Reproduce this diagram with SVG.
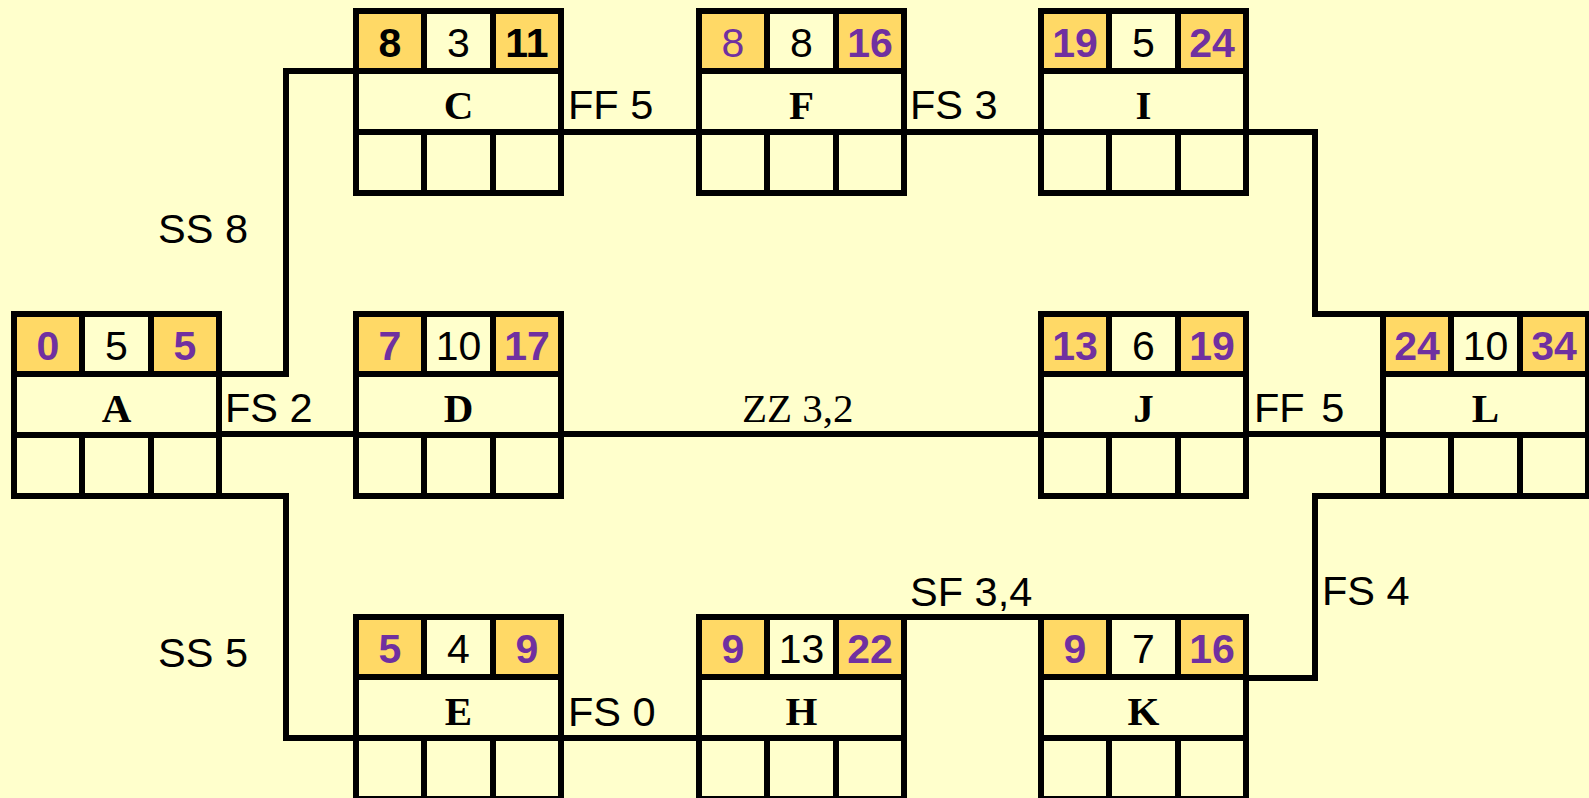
<svg xmlns="http://www.w3.org/2000/svg" xmlns:xlink="http://www.w3.org/1999/xlink" width="1589" height="798" viewBox="0 0 1589 798">
<style>
.bg{fill:#FFFFCC}
.cell{fill:#FFD966}
.box{fill:none;stroke:#000;stroke-width:6}
.ln{stroke:#000;stroke-width:6;fill:none}
.conn{stroke:#000;stroke-width:6;fill:none}
.num{font-family:"Liberation Sans",Arial,sans-serif;font-size:41px;text-anchor:middle}
.p{fill:#7030A0;font-weight:bold}
.pn{fill:#7030A0}
.b{fill:#000;font-weight:bold}
.k{fill:#000}
.lab{font-family:"Liberation Serif","Times New Roman",serif;font-size:41px;font-weight:bold;text-anchor:middle;fill:#000}
.cl{font-family:"Liberation Sans",Arial,sans-serif;font-size:41.5px;fill:#000}
.cs{font-family:"Liberation Serif","Times New Roman",serif;font-size:41px;fill:#000}
</style>
<defs>
<g id="frame">
<rect class="bg" x="0" y="0" width="205" height="182"/>
<rect class="cell" x="0" y="0" width="68" height="60"/>
<rect class="cell" x="137" y="0" width="68" height="60"/>
<rect class="box" x="0" y="0" width="205" height="182"/>
<path class="ln" d="M0,60H205M0,121H205M68,0V60M137,0V60M68,121V182M137,121V182"/>
</g>
</defs>
<rect x="0" y="0" width="1589" height="798" fill="#FFFFCC"/>

<g id="connectors">
<path class="conn" d="M219,374H286V71H356"/>
<path class="conn" d="M219,434H356"/>
<path class="conn" d="M219,496H286V738H356"/>
<path class="conn" d="M560,132H699"/>
<path class="conn" d="M904,132H1041"/>
<path class="conn" d="M1246,132H1315V314H1383"/>
<path class="conn" d="M560,434H1041"/>
<path class="conn" d="M1246,434H1383"/>
<path class="conn" d="M560,738H699"/>
<path class="conn" d="M904,617H1041"/>
<path class="conn" d="M1246,678H1315V496H1383"/>
<text class="cl" x="158" y="243">SS 8</text>
<text class="cl" x="158" y="667">SS 5</text>
<text class="cl" x="225" y="422">FS 2</text>
<text class="cl" x="568" y="119">FF 5</text>
<text class="cl" x="910" y="119">FS 3</text>
<text class="cs" x="742" y="422">ZZ 3,2</text>
<text class="cl" x="1254" y="422" word-spacing="5">FF 5</text>
<text class="cl" x="568" y="726">FS 0</text>
<text class="cl" x="910" y="606">SF 3,4</text>
<text class="cl" x="1322" y="605">FS 4</text>
</g>

<g id="node-A" transform="translate(14,314)">
<use xlink:href="#frame"/>
<text class="num p" x="34" y="46">0</text><text class="num k" x="102.5" y="46">5</text><text class="num p" x="171" y="46">5</text>
<text class="lab" x="102.5" y="108">A</text>
</g>
<g id="node-C" transform="translate(356,11)">
<use xlink:href="#frame"/>
<text class="num b" x="34" y="46">8</text><text class="num k" x="102.5" y="46">3</text><text class="num b" x="171" y="46">11</text>
<text class="lab" x="102.5" y="108">C</text>
</g>
<g id="node-D" transform="translate(356,314)">
<use xlink:href="#frame"/>
<text class="num p" x="34" y="46">7</text><text class="num k" x="102.5" y="46">10</text><text class="num p" x="171" y="46">17</text>
<text class="lab" x="102.5" y="108">D</text>
</g>
<g id="node-E" transform="translate(356,617)">
<use xlink:href="#frame"/>
<text class="num p" x="34" y="46">5</text><text class="num k" x="102.5" y="46">4</text><text class="num p" x="171" y="46">9</text>
<text class="lab" x="102.5" y="108">E</text>
</g>
<g id="node-F" transform="translate(699,11)">
<use xlink:href="#frame"/>
<text class="num pn" x="34" y="46">8</text><text class="num k" x="102.5" y="46">8</text><text class="num p" x="171" y="46">16</text>
<text class="lab" x="102.5" y="108">F</text>
</g>
<g id="node-H" transform="translate(699,617)">
<use xlink:href="#frame"/>
<text class="num p" x="34" y="46">9</text><text class="num k" x="102.5" y="46">13</text><text class="num p" x="171" y="46">22</text>
<text class="lab" x="102.5" y="108">H</text>
</g>
<g id="node-I" transform="translate(1041,11)">
<use xlink:href="#frame"/>
<text class="num p" x="34" y="46">19</text><text class="num k" x="102.5" y="46">5</text><text class="num p" x="171" y="46">24</text>
<text class="lab" x="102.5" y="108">I</text>
</g>
<g id="node-J" transform="translate(1041,314)">
<use xlink:href="#frame"/>
<text class="num p" x="34" y="46">13</text><text class="num k" x="102.5" y="46">6</text><text class="num p" x="171" y="46">19</text>
<text class="lab" x="102.5" y="108">J</text>
</g>
<g id="node-K" transform="translate(1041,617)">
<use xlink:href="#frame"/>
<text class="num p" x="34" y="46">9</text><text class="num k" x="102.5" y="46">7</text><text class="num p" x="171" y="46">16</text>
<text class="lab" x="102.5" y="108">K</text>
</g>
<g id="node-L" transform="translate(1383,314)">
<use xlink:href="#frame"/>
<text class="num p" x="34" y="46">24</text><text class="num k" x="102.5" y="46">10</text><text class="num p" x="171" y="46">34</text>
<text class="lab" x="102.5" y="108">L</text>
</g>
</svg>
